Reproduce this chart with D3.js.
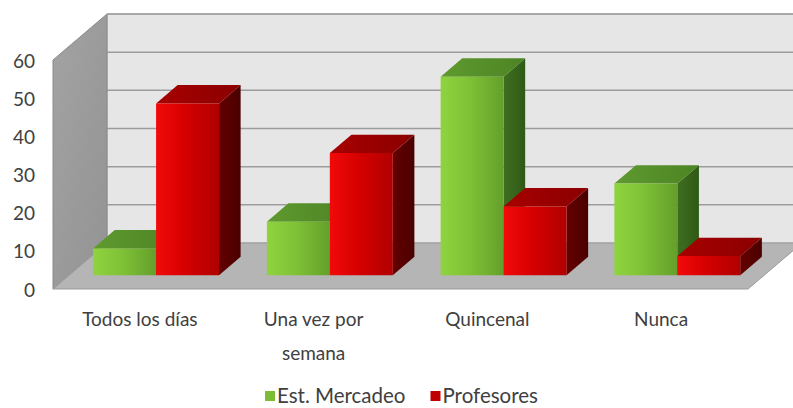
<!DOCTYPE html>
<html>
<head>
<meta charset="utf-8">
<script src="https://cdn.jsdelivr.net/npm/d3@7"></script>
<style>
  html, body { margin: 0; padding: 0; background: #ffffff; }
  svg { display: block; }
  text { font-family: Lato, "Open Sans", sans-serif; fill: #404040; }
</style>
</head>
<body>
<svg id="chart" width="793" height="408"></svg>
<script>
// Frecuencia por grupo (%)
const categories = ["Todos los días", "Una vez por semana", "Quincenal", "Nunca"];
const seriesNames = ["Est. Mercadeo", "Profesores"];
const estMercadeo = [7, 14, 52, 24];
const profesores = [45, 32, 18, 5];
const yTicks = [0, 10, 20, 30, 40, 50, 60];

const svg = d3.select("#chart");

// Front plane of the 3D box and the depth offset of the back wall
const front = { left: 53, right: 748, bottom: 289, top: 60 };
const DX = 54, DY = 46;
const barZ0 = 0.30, barZ1 = 0.70;

const x = d3.scaleBand().domain(categories).range([front.left, front.right]);
const xs = d3.scaleBand().domain(seriesNames).range([0, x.bandwidth()]).paddingOuter(0.38);
const y = d3.scaleLinear().domain([0, 60]).range([front.bottom, front.top]);

// screen point of (front-plane x, value, depth 0..1)
const P = (px, v, z) => [px + z * DX, y(v) - z * DY];
const poly = pts => "M" + pts.map(p => p.join(",")).join("L") + "Z";

const defs = svg.append("defs");
function hGrad(id, stops) {
  const g = defs.append("linearGradient").attr("id", id)
    .attr("x1", "0%").attr("x2", "100%").attr("y1", "0%").attr("y2", "0%");
  stops.forEach(([o, c]) => g.append("stop").attr("offset", o).attr("stop-color", c));
}
hGrad("gFront", [["0%", "#8fd43f"], ["45%", "#7fc236"], ["100%", "#649f2b"]]);
hGrad("gTop", [["0%", "#5f9a2f"], ["100%", "#4c8424"]]);
hGrad("gSide", [["0%", "#3f6e1f"], ["100%", "#2f5a16"]]);
hGrad("rFront", [["0%", "#f20a0a"], ["45%", "#d60000"], ["100%", "#b00000"]]);
hGrad("rTop", [["0%", "#a80000"], ["100%", "#8a0000"]]);
hGrad("rSide", [["0%", "#650000"], ["100%", "#4a0000"]]);
const sideWall = defs.append("linearGradient").attr("id", "wallSide")
  .attr("x1", "0%").attr("x2", "100%").attr("y1", "0%").attr("y2", "100%");
sideWall.append("stop").attr("offset", "0%").attr("stop-color", "#a3a3a3");
sideWall.append("stop").attr("offset", "100%").attr("stop-color", "#939393");

const fills = {
  "Est. Mercadeo": { front: "url(#gFront)", top: "url(#gTop)", side: "url(#gSide)", key: "#7bbd35" },
  "Profesores": { front: "url(#rFront)", top: "url(#rTop)", side: "url(#rSide)", key: "#c00000" }
};

// Back wall
svg.append("path")
  .attr("d", poly([P(front.left, 0, 1), P(front.left, 60, 1), P(front.right, 60, 1), P(front.right, 0, 1)]))
  .attr("fill", "#e6e6e6").attr("stroke", "#a6a6a6").attr("stroke-width", 1);

// Gridlines on back wall
svg.append("g").selectAll("line").data(yTicks.filter(d => d > 0)).join("line")
  .attr("x1", d => P(front.left, d, 1)[0]).attr("y1", d => P(front.left, d, 1)[1])
  .attr("x2", d => P(front.right, d, 1)[0]).attr("y2", d => P(front.right, d, 1)[1])
  .attr("stroke", "#9c9c9c").attr("stroke-width", 1.5);

// Side wall
svg.append("path")
  .attr("d", poly([P(front.left, 0, 0), P(front.left, 60, 0), P(front.left, 60, 1), P(front.left, 0, 1)]))
  .attr("fill", "url(#wallSide)").attr("stroke", "#8a8a8a").attr("stroke-width", 1);

// Floor
svg.append("path")
  .attr("d", poly([P(front.left, 0, 0), P(front.left, 0, 1), P(front.right, 0, 1), P(front.right, 0, 0)]))
  .attr("fill", "#b5b5b5").attr("stroke", "#9a9a9a").attr("stroke-width", 1);

// Bars: side, top, then front face, left to right so neighbours overlap correctly
const rows = categories.map((c, i) => ({ cat: c, vals: [estMercadeo[i], profesores[i]] }));
const barsG = svg.append("g");
rows.forEach(r => {
  seriesNames.forEach((s, j) => {
    const v = r.vals[j];
    const x0 = x(r.cat) + xs(s), x1 = x0 + xs.bandwidth();
    const f = fills[s];
    const g = barsG.append("g");
    g.append("path").attr("d", poly([P(x1, 0, barZ0), P(x1, v, barZ0), P(x1, v, barZ1), P(x1, 0, barZ1)]))
      .attr("fill", f.side);
    g.append("path").attr("d", poly([P(x0, v, barZ0), P(x0, v, barZ1), P(x1, v, barZ1), P(x1, v, barZ0)]))
      .attr("fill", f.top);
    g.append("path").attr("d", poly([P(x0, 0, barZ0), P(x0, v, barZ0), P(x1, v, barZ0), P(x1, 0, barZ0)]))
      .attr("fill", f.front);
  });
});

// Value axis labels along the front edge of the side wall
svg.append("g").selectAll("text").data(yTicks).join("text")
  .attr("x", 35).attr("y", d => y(d) + 1).attr("dy", "0.35em")
  .attr("text-anchor", "end").attr("font-size", 19)
  .text(d => d);

// Category labels, wrapped to the band width
const catG = svg.append("g");
categories.forEach(c => {
  const cx = x(c) + x.bandwidth() / 2;
  const t = catG.append("text").attr("text-anchor", "middle").attr("font-size", 19)
    .attr("x", cx).attr("y", 326);
  const words = c.split(" ");
  let line = [];
  let ts = t.append("tspan").attr("x", cx).attr("dy", 0);
  words.forEach(w => {
    line.push(w);
    ts.text(line.join(" "));
    if (ts.node().getComputedTextLength() > 125 && line.length > 1) {
      line.pop();
      ts.text(line.join(" "));
      line = [w];
      ts = t.append("tspan").attr("x", cx).attr("dy", 34).text(w);
    }
  });
});

// Legend
const legend = svg.append("g").attr("transform", "translate(265,391)");
let lx = 0;
seriesNames.forEach(s => {
  const item = legend.append("g").attr("transform", `translate(${lx},0)`);
  item.append("rect").attr("width", 10).attr("height", 10).attr("fill", fills[s].key);
  const tx = item.append("text").attr("x", 12).attr("y", 12)
    .attr("font-size", 20.5).text(s);
  lx += 12 + tx.node().getComputedTextLength() + 25;
});
</script>
</body>
</html>
